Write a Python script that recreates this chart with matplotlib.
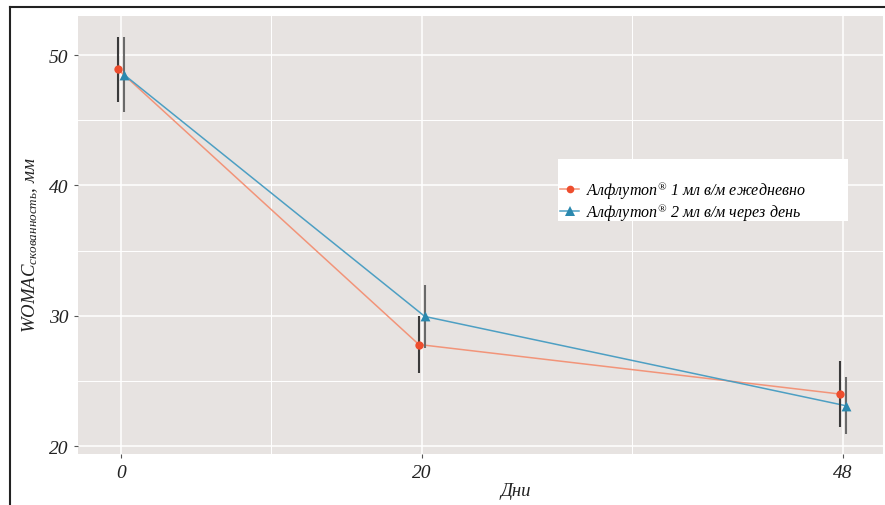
import matplotlib.pyplot as plt
from matplotlib.lines import Line2D
from matplotlib.patches import Rectangle

# data
days = [0, 20, 48]
daily_mean = [48.9, 27.8, 24.0]
daily_err = [2.5, 2.2, 2.5]
alt_mean = [48.5, 29.95, 23.1]
alt_err = [2.9, 2.45, 2.2]
x_ticks = [0, 20, 48]
x_minor = [10, 34]
y_ticks = [20, 30, 40, 50]
y_minor = [25, 35, 45]
labels = [r"$\mathit{Алфлутоп}^{®}$ 1 мл в/м ежедневно",
          r"$\mathit{Алфлутоп}^{®}$ 2 мл в/м через день"]

plt.rcParams["font.family"] = ["Liberation Serif", "DejaVu Serif"]
plt.rcParams["font.style"] = "italic"
plt.rcParams["mathtext.fontset"] = "custom"
plt.rcParams["mathtext.it"] = "Liberation Serif:italic"
plt.rcParams["mathtext.rm"] = "Liberation Serif:italic"

W, H = 885, 506
fig = plt.figure(figsize=(W / 100, H / 100), dpi=100)
ax = fig.add_axes([78 / W, 1 - 455 / H, (883 - 78) / W, (455 - 17) / H])

ax.set_facecolor("#E7E3E1")
ax.set_xlim(-2.86, 50.66)
ax.set_ylim(19.4, 53.0)
ax.set_xticks(x_ticks)
ax.set_xticks(x_minor, minor=True)
ax.set_yticks(y_ticks)
ax.set_yticks(y_minor, minor=True)
ax.grid(which="major", color="white", linewidth=1.1)
ax.grid(which="minor", color="white", linewidth=0.7)
ax.set_axisbelow(True)
for s in ax.spines.values():
    s.set_visible(False)
ax.tick_params(which="major", length=3, width=0.8, color="#555",
               labelsize=14, labelcolor="#222", pad=4)
ax.tick_params(which="minor", length=0)

red_line = "#F29479"
red_pt = "#EE4E2E"
blue_line = "#4D9FC3"
blue_pt = "#2A88AE"
dodge = 0.2

xd = [d - dodge for d in days]
xa = [d + dodge for d in days]

ax.plot(xd, daily_mean, color=red_line, lw=1.1, zorder=3)
ax.plot(xa, alt_mean, color=blue_line, lw=1.1, zorder=3)
ax.errorbar(xd, daily_mean, yerr=daily_err, fmt="none", ecolor="#3a3a3a",
            elinewidth=1.5, capsize=0, zorder=4)
ax.errorbar(xa, alt_mean, yerr=alt_err, fmt="none", ecolor="#6a6a6a",
            elinewidth=1.5, capsize=0, zorder=4)
ax.scatter(xd, daily_mean, color=red_pt, s=36, marker="o", zorder=5,
           linewidths=0)
ax.scatter(xa, alt_mean, color=blue_pt, s=50, marker="^", zorder=5,
           linewidths=0)

# legend box
fig.add_artist(Rectangle((558 / W, 1 - 222 / H), (848 - 558) / W, (222 - 160) / H,
                         transform=fig.transFigure, facecolor="white",
                         edgecolor="none", zorder=2))
handles = [Line2D([], [], color=red_line, marker="o", markerfacecolor=red_pt,
                  markeredgewidth=0, markersize=5.5, lw=1.1),
           Line2D([], [], color=blue_line, marker="^", markerfacecolor=blue_pt,
                  markeredgewidth=0, markersize=6.5, lw=1.1)]
leg = fig.legend(handles, labels, loc="upper left",
                 bbox_to_anchor=(560 / W, 1 - 180 / H),
                 bbox_transform=fig.transFigure, frameon=False,
                 fontsize=11.5, handlelength=1.2, handletextpad=0.4,
                 labelspacing=0.0, borderpad=0, borderaxespad=0)
leg.set_zorder(3)

fig.text(516 / W, 1 - 492 / H, "Дни", ha="center", va="center",
         fontsize=13.5, color="#222")
fig.text(30 / W, 1 - 245 / H, r"$\mathit{WOMAC}_{\mathit{скованность}}$, мм",
         ha="center", va="center", rotation=90, fontsize=13.5, color="#222")

# outer frame lines
fig.add_artist(Line2D([10 / W, 1], [1 - 8 / H, 1 - 8 / H],
                      transform=fig.transFigure, color="#222", lw=1.5))
fig.add_artist(Line2D([10 / W, 10 / W], [0, 1 - 8 / H],
                      transform=fig.transFigure, color="#222", lw=1.5))

fig.savefig("out.png", dpi=100)
